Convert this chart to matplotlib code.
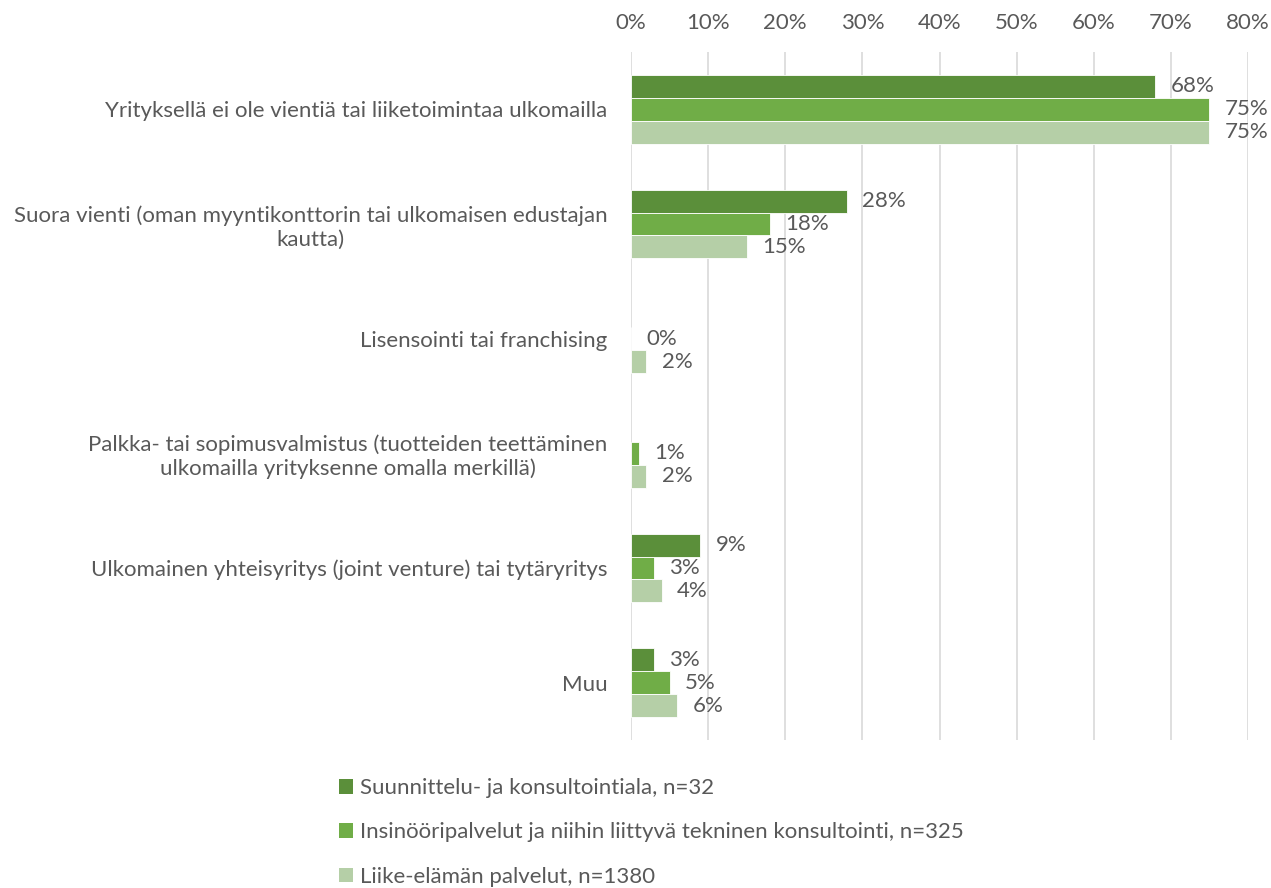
import numpy as np
import matplotlib
matplotlib.use("Agg")
import matplotlib.pyplot as plt
from matplotlib.patches import Patch

plt.rcParams['font.family'] = ['Lato', 'DejaVu Sans']

categories = [
    "Yrityksellä ei ole vientiä tai liiketoimintaa ulkomailla",
    "Suora vienti (oman myyntikonttorin tai ulkomaisen edustajan\nkautta)",
    "Lisensointi tai franchising",
    "Palkka- tai sopimusvalmistus (tuotteiden teettäminen\nulkomailla yrityksenne omalla merkillä)",
    "Ulkomainen yhteisyritys (joint venture) tai tytäryritys",
    "Muu",
]
series_names = [
    "Suunnittelu- ja konsultointiala, n=32",
    "Insinööripalvelut ja niihin liittyvä tekninen konsultointi, n=325",
    "Liike-elämän palvelut, n=1380",
]
suunnittelu = [68, 28, np.nan, np.nan, 9, 3]
insinoori = [75, 18, 0, 1, 3, 5]
liike = [75, 15, 2, 2, 4, 6]
xticks = [0, 10, 20, 30, 40, 50, 60, 70, 80]

colors = ["#5b8f3a", "#70ad47", "#b5cfa7"]
text_col = "#595959"
fs = 16

fig = plt.figure(figsize=(12.71, 8.88), dpi=100)
ax = fig.add_axes([631 / 1271, 1 - 740 / 888, 617 / 1271, 688 / 888])

y = np.arange(len(categories))
h = 0.2
for k, vals in enumerate([suunnittelu, insinoori, liike]):
    pos = y + (k - 1) * h
    ax.barh(pos, vals, height=h, color=colors[k], edgecolor="white",
            linewidth=0.6, zorder=3)
    for p, v in zip(pos, vals):
        if np.isnan(v):
            continue
        ax.annotate(f"{v:.0f}%", (v, p), xytext=(11, 0),
                    textcoords="offset points", ha="left", va="center",
                    fontsize=fs, color=text_col)

ax.set_xlim(0, 80)
ax.set_ylim(5.5, -0.5)
ax.set_xticks(xticks)
ax.set_xticklabels([f"{t}%" for t in xticks])
ax.xaxis.tick_top()
ax.tick_params(axis="x", length=0, pad=14, labelsize=fs, labelcolor=text_col)
ax.set_yticks(y)
ax.set_yticklabels(categories, multialignment="center")
ax.tick_params(axis="y", length=0, pad=17, labelsize=fs, labelcolor=text_col)
ax.grid(axis="x", color="#d9d9d9", linewidth=1.2, zorder=0)
for s in ax.spines.values():
    s.set_visible(False)

handles = [Patch(facecolor=c, edgecolor="none") for c in colors]
fig.legend(handles, series_names, loc="upper left",
           bbox_to_anchor=(330 / 1271, 1 - 769 / 888), frameon=False,
           fontsize=fs, labelcolor=text_col, handlelength=0.65,
           handleheight=0.65, handletextpad=0.3, labelspacing=1.1,
           borderaxespad=0)

fig.savefig("out.png", dpi=100)
